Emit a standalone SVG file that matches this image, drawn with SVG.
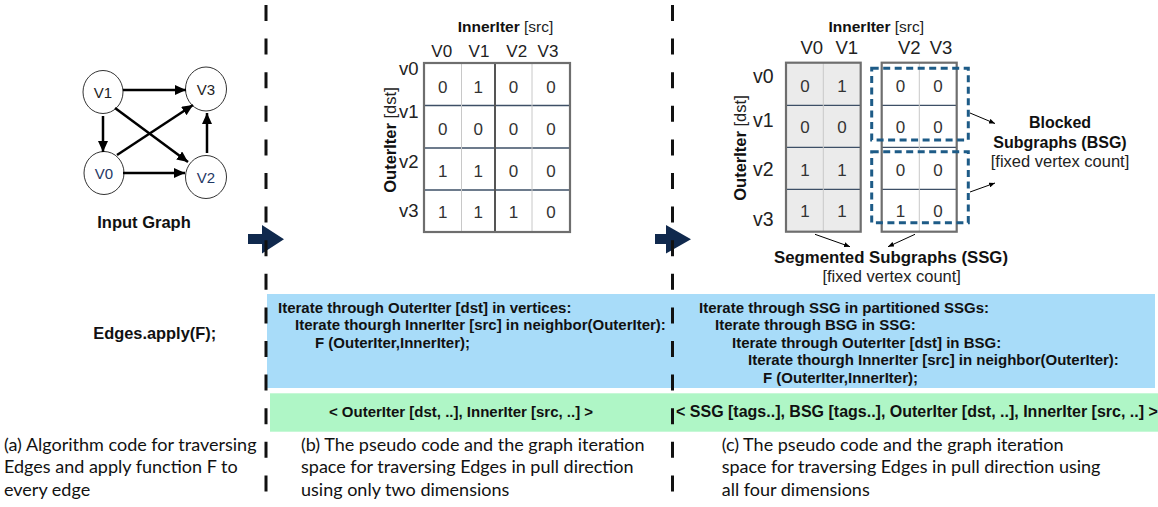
<svg xmlns="http://www.w3.org/2000/svg" width="1158" height="507" viewBox="0 0 1158 507">
<defs>
<marker id="ah" markerWidth="11" markerHeight="10" refX="11" refY="5" orient="auto" markerUnits="userSpaceOnUse"><path d="M0,0 L11,5 L0,10 z" fill="#000"/></marker>
<marker id="ahs" markerWidth="6" markerHeight="5" refX="6" refY="2.5" orient="auto" markerUnits="userSpaceOnUse"><path d="M0,0 L6,2.5 L0,5 z" fill="#000"/></marker>
</defs>
<style>
.b{font-family:"Liberation Sans",Arial,sans-serif;font-weight:bold;fill:#111}
.r{font-family:"Liberation Sans",Arial,sans-serif;fill:#222}
.cap{font-family:Lato,"Open Sans",sans-serif;font-size:18px;fill:#111}
.num{font-family:"Liberation Sans",Arial,sans-serif;font-size:17px;fill:#333;text-anchor:middle}
.hdr{font-family:"Liberation Sans",Arial,sans-serif;fill:#222;text-anchor:middle}
.row{font-family:"Liberation Sans",Arial,sans-serif;fill:#222;text-anchor:end}
.node{fill:#fff;stroke:#333;stroke-width:1}
.edge{stroke:#000;stroke-width:2.5;fill:none;marker-end:url(#ah)}
.thin{stroke:#000;stroke-width:1;fill:none;marker-end:url(#ahs)}
.gh{stroke:#3d4f66;stroke-width:1.3}
.gv{stroke:#c8c8c8;stroke-width:1}
.frame{fill:none;stroke:#6e6e6e;stroke-width:2.2}
.dash{stroke:#111;stroke-width:3;stroke-dasharray:16 17.6}
.bsg{fill:none;stroke:#1d5b87;stroke-width:3;stroke-dasharray:7 4.5}
.navy{fill:#10294d}
</style>

<!-- background bands -->
<rect x="267" y="294" width="888" height="94" fill="#a8dcf9"/>
<rect x="270" y="393.3" width="888" height="38.4" fill="#aff6c6"/>

<!-- Panel (a): input graph -->
<g id="node-v1"><ellipse class="node" cx="103" cy="92" rx="20" ry="21.5"/><text class="r" x="103" y="97.5" font-size="15" text-anchor="middle">V1</text></g>
<g id="node-v3"><ellipse class="node" cx="206" cy="89" rx="20.5" ry="22"/><text class="r" x="206" y="94.5" font-size="15" text-anchor="middle">V3</text></g>
<g id="node-v0"><ellipse class="node" cx="104" cy="173" rx="20" ry="21.5"/><text class="r" x="104" y="178.5" font-size="15" text-anchor="middle" style="fill:#1f3864">V0</text></g>
<g id="node-v2"><ellipse class="node" cx="206" cy="177" rx="20.5" ry="21.5"/><text class="r" x="206" y="182.5" font-size="15" text-anchor="middle" style="fill:#1f3864">V2</text></g>

<g id="connectors">
<line class="edge" x1="123" y1="90" x2="186" y2="90"/>
<line class="edge" x1="103" y1="116" x2="103" y2="152"/>
<line class="edge" x1="115" y1="108" x2="188" y2="162"/>
<line class="edge" x1="117" y1="155" x2="193" y2="105"/>
<line class="edge" x1="123" y1="173" x2="185" y2="173"/>
<line class="edge" x1="207" y1="153" x2="207" y2="113"/>
<line class="thin" x1="970" y1="113" x2="995" y2="123.5"/>
<line class="thin" x1="970" y1="192" x2="995" y2="183"/>
<line class="thin" x1="815" y1="234.3" x2="850" y2="246.7"/>
<line class="thin" x1="915" y1="234.3" x2="888" y2="246.7"/>
</g>

<g id="label-input-graph"><text class="b" x="144" y="228" font-size="16.5" text-anchor="middle">Input Graph</text></g>
<g id="label-edges-apply"><text class="b" x="154.7" y="339" font-size="16.4" text-anchor="middle">Edges.apply(F);</text></g>

<!-- Panel (b): matrix -->
<g id="matrix-b">
<rect x="424" y="63" width="146" height="169" fill="#fff"/>
<line class="gh" x1="424" y1="105.5" x2="570" y2="105.5"/>
<line class="gh" x1="424" y1="148" x2="570" y2="148"/>
<line class="gh" x1="424" y1="190" x2="570" y2="190"/>
<line class="gv" x1="461.5" y1="63" x2="461.5" y2="232"/>
<line class="gv" x1="532" y1="63" x2="532" y2="232"/>
<line x1="495" y1="63" x2="495" y2="232" stroke="#555" stroke-width="2"/>
<rect class="frame" x="424" y="63" width="146" height="169"/>
<text class="num" x="442.7" y="93">0</text><text class="num" x="478.3" y="93">1</text><text class="num" x="513.5" y="93">0</text><text class="num" x="551" y="93">0</text>
<text class="num" x="442.7" y="134.5">0</text><text class="num" x="478.3" y="134.5">0</text><text class="num" x="513.5" y="134.5">0</text><text class="num" x="551" y="134.5">0</text>
<text class="num" x="442.7" y="176.5">1</text><text class="num" x="478.3" y="176.5">1</text><text class="num" x="513.5" y="176.5">0</text><text class="num" x="551" y="176.5">0</text>
<text class="num" x="442.7" y="218">1</text><text class="num" x="478.3" y="218">1</text><text class="num" x="513.5" y="218">1</text><text class="num" x="551" y="218">0</text>
</g>
<g id="headers-b">
<text class="hdr" x="505.5" y="31.7" font-size="15.5"><tspan font-weight="bold" fill="#111">InnerIter</tspan> [src]</text>
<text class="hdr" x="441.7" y="57.3" font-size="17">V0</text>
<text class="hdr" x="479" y="57.3" font-size="17">V1</text>
<text class="hdr" x="516.7" y="57.3" font-size="17">V2</text>
<text class="hdr" x="548" y="57.3" font-size="17">V3</text>
<text class="row" x="418.5" y="75" font-size="18.5">v0</text>
<text class="row" x="418.5" y="118.3" font-size="18.5">v1</text>
<text class="row" x="418.5" y="168" font-size="18.5">v2</text>
<text class="row" x="418.5" y="216.7" font-size="18.5">v3</text>
<text class="hdr" font-size="16.5" transform="translate(396,140) rotate(-90)"><tspan font-weight="bold" fill="#111">OuterIter</tspan> [dst]</text>
</g>

<!-- Panel (c): matrix -->
<g id="ssg-left">
<rect x="786" y="62.7" width="74.7" height="169" fill="#ebebeb"/>
<line class="gh" x1="786" y1="105.3" x2="860.7" y2="105.3"/>
<line class="gh" x1="786" y1="147.3" x2="860.7" y2="147.3"/>
<line class="gh" x1="786" y1="189.3" x2="860.7" y2="189.3"/>
<line class="gv" x1="823.3" y1="62.7" x2="823.3" y2="231.7"/>
<rect class="frame" x="786" y="62.7" width="74.7" height="169"/>
<text class="num" x="805" y="91.7">0</text><text class="num" x="842" y="91.7">1</text>
<text class="num" x="805" y="133.3">0</text><text class="num" x="842" y="133.3">0</text>
<text class="num" x="805" y="175.7">1</text><text class="num" x="842" y="175.7">1</text>
<text class="num" x="805" y="217.3">1</text><text class="num" x="842" y="217.3">1</text>
</g>
<g id="ssg-right">
<rect x="881.7" y="62.7" width="75" height="169" fill="#fff"/>
<line class="gh" x1="881.7" y1="105.3" x2="956.7" y2="105.3"/>
<line class="gh" x1="881.7" y1="147.3" x2="956.7" y2="147.3"/>
<line class="gh" x1="881.7" y1="189.3" x2="956.7" y2="189.3"/>
<line class="gv" x1="919.3" y1="62.7" x2="919.3" y2="231.7"/>
<rect class="frame" x="881.7" y="62.7" width="75" height="169"/>
<text class="num" x="900.5" y="91.7">0</text><text class="num" x="938" y="91.7">0</text>
<text class="num" x="900.5" y="133.3">0</text><text class="num" x="938" y="133.3">0</text>
<text class="num" x="900.5" y="175.7">0</text><text class="num" x="938" y="175.7">0</text>
<text class="num" x="900.5" y="217.3">1</text><text class="num" x="938" y="217.3">0</text>
</g>
<g id="bsg-top"><rect class="bsg" x="871.7" y="68.3" width="96.6" height="71.7"/></g>
<g id="bsg-bottom"><rect class="bsg" x="871.7" y="151.7" width="96.6" height="71"/></g>
<g id="headers-c">
<text class="hdr" x="876.3" y="31.7" font-size="15.5"><tspan font-weight="bold" fill="#111">InnerIter</tspan> [src]</text>
<text class="hdr" x="811.7" y="54.3" font-size="18.5">V0</text>
<text class="hdr" x="846.7" y="54.3" font-size="18.5">V1</text>
<text class="hdr" x="909.3" y="54.3" font-size="18.5">V2</text>
<text class="hdr" x="941" y="54.3" font-size="18.5">V3</text>
<text class="row" x="773.5" y="82.7" font-size="19.5">v0</text>
<text class="row" x="773.5" y="127.3" font-size="19.5">v1</text>
<text class="row" x="773.5" y="176" font-size="19.5">v2</text>
<text class="row" x="773.5" y="226" font-size="19.5">v3</text>
<text class="hdr" font-size="16.5" transform="translate(746,148) rotate(-90)"><tspan font-weight="bold" fill="#111">OuterIter</tspan> [dst]</text>
</g>
<g id="label-bsg">
<text class="b" x="1060" y="127.7" font-size="16" text-anchor="middle">Blocked</text>
<text class="b" x="1060" y="147.7" font-size="16" text-anchor="middle">Subgraphs (BSG)</text>
<text class="r" x="1060" y="166.7" font-size="16.5" text-anchor="middle">[fixed vertex count]</text>
</g>
<g id="label-ssg">
<text class="b" x="891" y="262.7" font-size="16.8" text-anchor="middle">Segmented Subgraphs (SSG)</text>
<text class="r" x="891.7" y="281.7" font-size="16.5" text-anchor="middle">[fixed vertex count]</text>
</g>

<!-- navy arrows -->
<g id="arrow-1"><polygon class="navy" points="248,234 262,234 262,225 284,239.3 262,253.5 262,244 248,244"/></g>
<g id="arrow-2"><polygon class="navy" points="655,234 666,234 666,225 691,239.3 666,253.5 666,244 655,244"/></g>

<!-- pseudo code -->
<g id="code-b" class="b" font-size="15">
<text x="278" y="312.5">Iterate through OuterIter [dst] in vertices:</text>
<text x="295" y="330">Iterate thourgh InnerIter [src] in neighbor(OuterIter):</text>
<text x="315" y="347.5">F (OuterIter,InnerIter);</text>
</g>
<g id="code-c" class="b" font-size="15">
<text x="699" y="312.5">Iterate through SSG in partitioned SSGs:</text>
<text x="715" y="330">Iterate through BSG in SSG:</text>
<text x="732" y="347.5">Iterate through OuterIter [dst] in BSG:</text>
<text x="748" y="365">Iterate thourgh InnerIter [src] in neighbor(OuterIter):</text>
<text x="763" y="382.5">F (OuterIter,InnerIter);</text>
</g>
<g id="tuple-b"><text class="b" x="461" y="417" font-size="15" text-anchor="middle">&lt; OuterIter [dst, ..], InnerIter [src, ..] &gt;</text></g>
<g id="tuple-c"><text class="b" x="676" y="417" font-size="16">&lt; SSG [tags..], BSG [tags..], OuterIter [dst, ..], InnerIter [src, ..] &gt;</text></g>

<!-- captions -->
<g id="caption-a" class="cap">
<text x="4" y="450.7">(a) Algorithm code for traversing</text>
<text x="4" y="473.3">Edges and apply function F to</text>
<text x="4" y="496">every edge</text>
</g>
<g id="caption-b" class="cap">
<text x="301" y="450.7">(b) The pseudo code and the graph iteration</text>
<text x="301" y="473.3">space for traversing Edges in pull direction</text>
<text x="301" y="496">using only two dimensions</text>
</g>
<g id="caption-c" class="cap">
<text x="721.7" y="450.7">(c) The pseudo code and the graph iteration</text>
<text x="721.7" y="473.3">space for traversing Edges in pull direction using</text>
<text x="721.7" y="496">all four dimensions</text>
</g>

<!-- dividers -->
<g id="dividers">
<line class="dash" x1="266" y1="5" x2="266" y2="507"/>
<line class="dash" x1="672.5" y1="5" x2="672.5" y2="507"/>
</g>
</svg>
